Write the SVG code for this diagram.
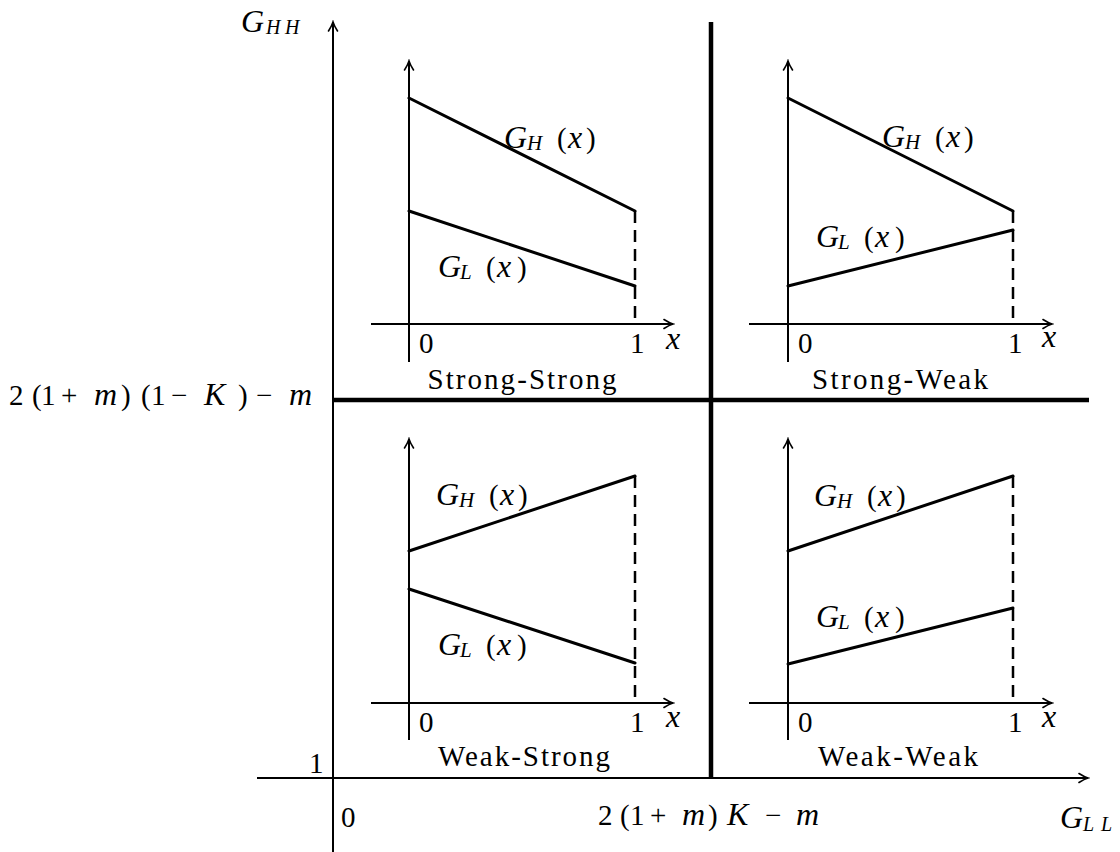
<svg xmlns="http://www.w3.org/2000/svg" width="1120" height="852" viewBox="0 0 1120 852" font-family="'Liberation Serif', 'Times New Roman', serif">
<style>
text{font-family:'Liberation Serif','Times New Roman',serif;font-size:29px;fill:#000}
.i{font-style:italic;font-size:32px}
.s{font-style:italic;font-size:21px}
.ss{font-style:italic;font-size:20px}
.ax{stroke:#000;stroke-width:2;fill:none}
.thick{stroke:#000;stroke-width:4.5;fill:none}
.g{stroke:#000;stroke-width:3;fill:none;stroke-linecap:round}
.d{stroke:#000;stroke-width:2.5;fill:none;stroke-dasharray:12 7}
.lab{font-size:29px}
</style>
<defs>
<marker id="arr" markerUnits="userSpaceOnUse" markerWidth="14" markerHeight="14" viewBox="-12 -7 14 14" refX="0" refY="0" orient="auto">
<path d="M-9,-4.5 Q-3.5,-1 0,0 Q-3.5,1 -9,4.5" stroke="#000" stroke-width="1.6" fill="none" stroke-linecap="round"/>
</marker>
</defs>

<g id="connectors">
<line class="ax" x1="333" y1="852" x2="333" y2="22" marker-end="url(#arr)"/>
<line class="ax" x1="257" y1="778" x2="1088" y2="778" marker-end="url(#arr)"/>
<line class="thick" x1="711" y1="22" x2="711" y2="778"/>
<line class="thick" x1="333" y1="400" x2="1089" y2="400"/>
</g>

<g id="main-labels">
<text x="241" y="32" class="i">G</text><text x="266" y="34" class="ss">H</text><text x="285" y="34" class="ss">H</text>
<text x="1060" y="828" class="i">G</text><text x="1083" y="831" class="ss">L</text><text x="1101" y="831" class="ss">L</text>
<text x="309" y="773">1</text>
<text x="341" y="827">0</text>
<text y="405"><tspan x="9">2</tspan><tspan x="32">(</tspan><tspan x="41">1</tspan><tspan x="61">+</tspan><tspan x="94" class="i">m</tspan><tspan x="121">)</tspan><tspan x="141">(</tspan><tspan x="151">1</tspan><tspan x="171">−</tspan><tspan x="204" class="i">K</tspan><tspan x="238">)</tspan><tspan x="256">−</tspan><tspan x="289" class="i">m</tspan></text>
<text y="825"><tspan x="598">2</tspan><tspan x="620">(</tspan><tspan x="630">1</tspan><tspan x="650">+</tspan><tspan x="682" class="i">m</tspan><tspan x="708">)</tspan><tspan x="727" class="i">K</tspan><tspan x="765">−</tspan><tspan x="796" class="i">m</tspan></text>
</g>

<g id="strong-strong">
<line class="ax" x1="409" y1="362" x2="409" y2="61" marker-end="url(#arr)"/>
<line class="ax" x1="371" y1="324" x2="673" y2="324" marker-end="url(#arr)"/>
<line class="g" x1="409" y1="98" x2="635" y2="211"/>
<line class="g" x1="409" y1="211" x2="635" y2="286"/>
<line class="d" x1="635" y1="211" x2="635" y2="324"/>
<text y="148"><tspan x="504" class="i">G</tspan><tspan x="527" dy="2" class="s">H</tspan><tspan x="557" dy="-2">(</tspan><tspan x="568" class="i">x</tspan><tspan x="586">)</tspan></text>
<text y="277"><tspan x="438" class="i">G</tspan><tspan x="460" dy="2" class="s">L</tspan><tspan x="486" dy="-2">(</tspan><tspan x="497" class="i">x</tspan><tspan x="517">)</tspan></text>
<text x="419" y="353">0</text>
<text x="630" y="353">1</text>
<text x="666" y="349" class="i">x</text>
<text x="522" y="389" class="lab" text-anchor="middle" textLength="189">Strong-Strong</text>
</g>

<g id="strong-weak">
<line class="ax" x1="788" y1="362" x2="788" y2="61" marker-end="url(#arr)"/>
<line class="ax" x1="749" y1="324" x2="1052" y2="324" marker-end="url(#arr)"/>
<line class="g" x1="788" y1="98" x2="1013" y2="211"/>
<line class="g" x1="788" y1="286" x2="1013" y2="230"/>
<line class="d" x1="1013" y1="211" x2="1013" y2="324"/>
<text y="147"><tspan x="882" class="i">G</tspan><tspan x="905" dy="2" class="s">H</tspan><tspan x="935" dy="-2">(</tspan><tspan x="946" class="i">x</tspan><tspan x="964">)</tspan></text>
<text y="247"><tspan x="816" class="i">G</tspan><tspan x="838" dy="2" class="s">L</tspan><tspan x="864" dy="-2">(</tspan><tspan x="875" class="i">x</tspan><tspan x="895">)</tspan></text>
<text x="798" y="353">0</text>
<text x="1008" y="353">1</text>
<text x="1042" y="347" class="i">x</text>
<text x="900" y="389" class="lab" text-anchor="middle" textLength="176">Strong-Weak</text>
</g>

<g id="weak-strong">
<line class="ax" x1="409" y1="740" x2="409" y2="439" marker-end="url(#arr)"/>
<line class="ax" x1="371" y1="703" x2="673" y2="703" marker-end="url(#arr)"/>
<line class="g" x1="409" y1="551" x2="635" y2="476"/>
<line class="g" x1="409" y1="589" x2="635" y2="663"/>
<line class="d" x1="635" y1="476" x2="635" y2="703"/>
<text y="505"><tspan x="436" class="i">G</tspan><tspan x="459" dy="2" class="s">H</tspan><tspan x="489" dy="-2">(</tspan><tspan x="500" class="i">x</tspan><tspan x="518">)</tspan></text>
<text y="655"><tspan x="438" class="i">G</tspan><tspan x="460" dy="2" class="s">L</tspan><tspan x="486" dy="-2">(</tspan><tspan x="497" class="i">x</tspan><tspan x="517">)</tspan></text>
<text x="419" y="732">0</text>
<text x="630" y="732">1</text>
<text x="666" y="727" class="i">x</text>
<text x="524" y="766" class="lab" text-anchor="middle" textLength="172">Weak-Strong</text>
</g>

<g id="weak-weak">
<line class="ax" x1="788" y1="740" x2="788" y2="439" marker-end="url(#arr)"/>
<line class="ax" x1="749" y1="703" x2="1052" y2="703" marker-end="url(#arr)"/>
<line class="g" x1="788" y1="551" x2="1013" y2="476"/>
<line class="g" x1="788" y1="664" x2="1013" y2="608"/>
<line class="d" x1="1013" y1="476" x2="1013" y2="703"/>
<text y="506"><tspan x="814" class="i">G</tspan><tspan x="837" dy="2" class="s">H</tspan><tspan x="867" dy="-2">(</tspan><tspan x="878" class="i">x</tspan><tspan x="896">)</tspan></text>
<text y="627"><tspan x="816" class="i">G</tspan><tspan x="838" dy="2" class="s">L</tspan><tspan x="864" dy="-2">(</tspan><tspan x="875" class="i">x</tspan><tspan x="895">)</tspan></text>
<text x="798" y="732">0</text>
<text x="1008" y="732">1</text>
<text x="1042" y="727" class="i">x</text>
<text x="898" y="766" class="lab" text-anchor="middle" textLength="160">Weak-Weak</text>
</g>
</svg>
